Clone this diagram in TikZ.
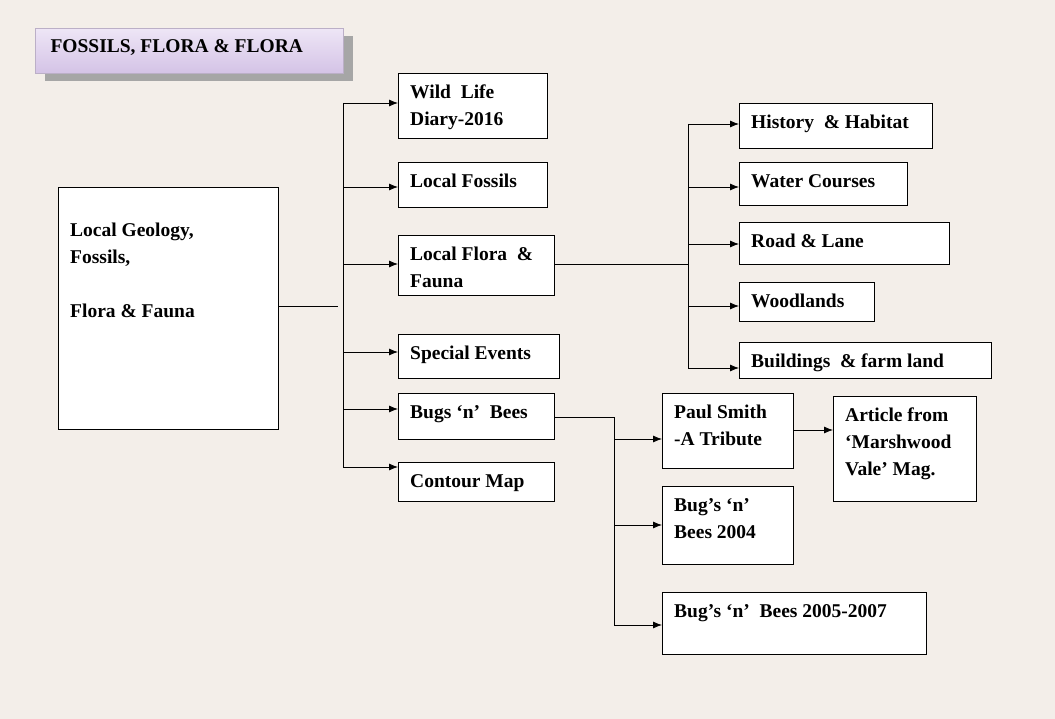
\documentclass[tikz,border=0pt]{standalone}
\usepackage{fontspec}
\setmainfont{Liberation Serif}
\usetikzlibrary{calc,arrows.meta}
\definecolor{bgcol}{HTML}{F3EEE9}
\definecolor{lavtop}{HTML}{EEE6F6}
\definecolor{lavbot}{HTML}{D4C3E6}
\tikzset{
  box/.style={draw,thick,fill=white,anchor=north west,inner sep=0pt},
  txt/.style={font=\bfseries\fontsize{19.5}{27}\selectfont,align=left},
  arr/.style={thick,-{Latex[length=9pt,width=7pt]}}
}
\newcommand\bx[7][12]{% name, x1, y1, x2, y2, text
  \node[box,minimum width={#5-#3},minimum height={#6-#4},
    label={[txt,anchor=north west,inner sep=0pt,xshift=12,yshift=-#1]north west:#7}] (#2) at (#3,#4) {};}
\begin{document}
\begin{tikzpicture}[x=1pt,y=-1pt]
\fill[bgcol] (0,0) rectangle (1055,719);
% title
\fill[gray!70] (45,36) rectangle (353,81);
\node[draw=lavbot!70!gray,top color=lavtop,bottom color=lavbot,anchor=north west,minimum width=308,minimum height=45,inner sep=0pt] (title) at (35,28) {};
\node[txt,anchor=west] (titletxt) at (47,48) {FOSSILS, FLORA \& FLORA};
% boxes
\bx[36]{geo}{58}{187}{278}{429}{Local Geology,\\Fossils,\\[27pt]Flora \& Fauna}
\bx{diary}{398}{73}{547}{138}{Wild\ \ Life\\Diary-2016}
\bx{fossils}{398}{162}{547}{207}{Local Fossils}
\bx{flora}{398}{235}{554}{295}{Local Flora \ \&\\Fauna}
\bx{events}{398}{334}{559}{378}{Special Events}
\bx{bugs}{398}{393}{554}{439}{Bugs ‘n’ \ Bees}
\bx{contour}{398}{462}{554}{501}{Contour Map}
\bx{history}{739}{103}{932}{148}{History \ \& Habitat}
\bx{water}{739}{162}{907}{205}{Water Courses}
\bx{road}{739}{222}{949}{264}{Road \& Lane}
\bx{wood}{739}{282}{874}{321}{Woodlands}
\bx{build}{739}{342}{991}{378}{Buildings \ \& farm land}
\bx{paul}{662}{393}{793}{468}{Paul Smith\\-A Tribute}
\bx{bees4}{662}{486}{793}{564}{Bug’s ‘n’\\Bees 2004}
\bx{bees5}{662}{592}{926}{654}{Bug’s ‘n’ \ Bees 2005-2007}
\bx{article}{833}{396}{976}{501}{Article from\\‘Marshwood\\Vale’ Mag.}
% connectors
\coordinate (gjoin) at (338,306);
\coordinate (gtop) at (343,103);
\coordinate (gbot) at (343,467);
\draw[thick] (geo.east |- gjoin) -- (gjoin);
\draw[thick] (gtop) -- (gbot);
\foreach \t/\y in {diary/103,fossils/187,flora/264,events/352,bugs/409,contour/467}
  \draw[arr] (343,\y) -- (\t.west |- 0,\y);
\coordinate (fjoin) at (688,264);
\coordinate (ftop) at (688,124);
\coordinate (fbot) at (688,368);
\draw[thick] (flora.east |- fjoin) -- (fjoin);
\draw[thick] (ftop) -- (fbot);
\foreach \t/\y in {history/124,water/187,road/244,wood/306,build/368}
  \draw[arr] (688,\y) -- (\t.west |- 0,\y);
\coordinate (btop) at (614,417);
\coordinate (bbot) at (614,625);
\draw[thick] (bugs.east |- btop) -- (btop) -- (bbot);
\foreach \t/\y in {paul/439,bees4/525,bees5/625}
  \draw[arr] (614,\y) -- (\t.west |- 0,\y);
\draw[arr] (paul.east |- 0,430) -- (article.west |- 0,430);
\end{tikzpicture}
\end{document}
